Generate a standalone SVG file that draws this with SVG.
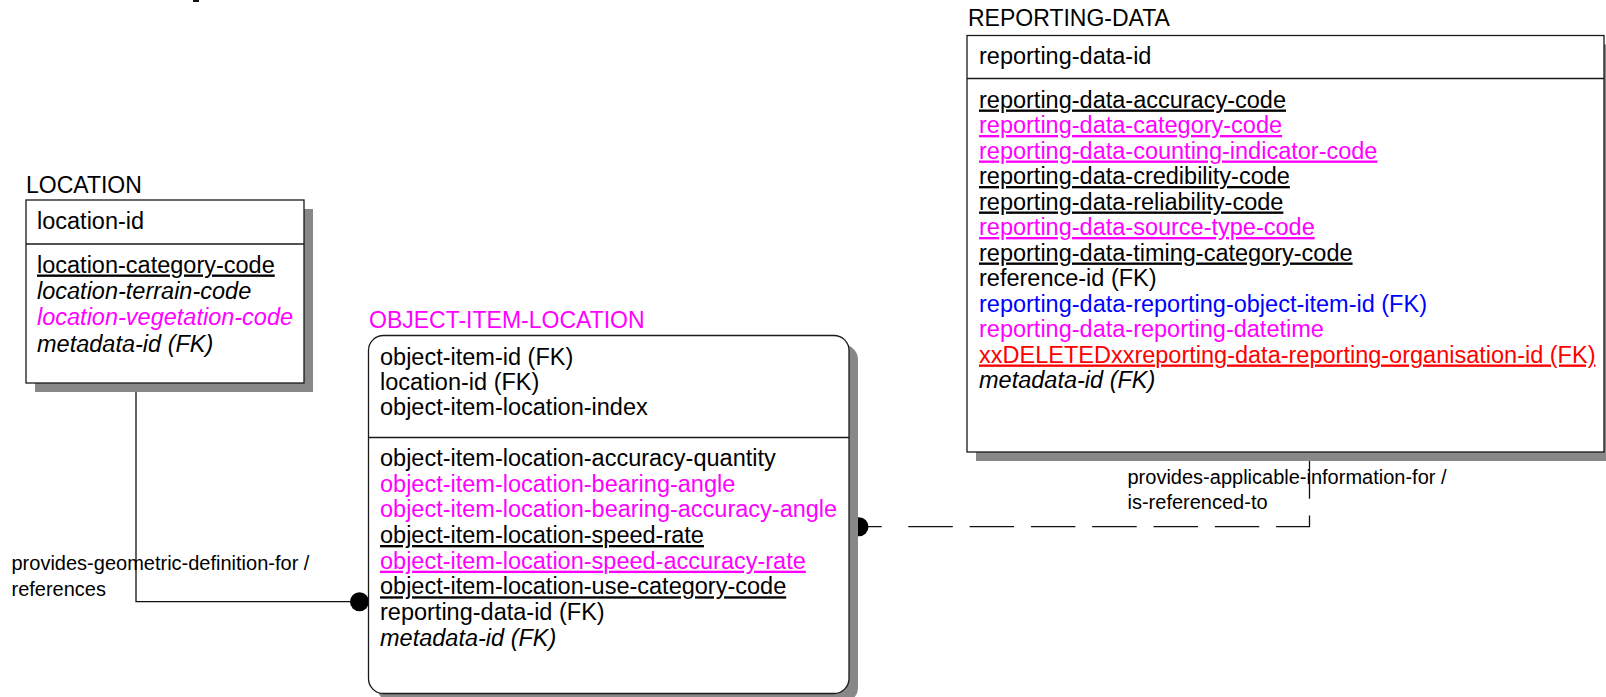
<svg xmlns="http://www.w3.org/2000/svg" width="1606" height="697" viewBox="0 0 1606 697">
<style>
text{font-family:"Liberation Sans",Arial,Helvetica,sans-serif;fill:#000}
.t{font-size:23px}
.a{font-size:23.5px}
.l{font-size:20px}
.u{text-decoration:underline}
.i{font-style:italic}
.m{fill:#ff00ff}
.b{fill:#0000ff}
.r{fill:#ff0000}
.box{fill:#fff;stroke:#1a1a1a;stroke-width:1.3}
.sh{fill:#888}
.div{stroke:#1a1a1a;stroke-width:1.3}
.con{fill:none;stroke:#111;stroke-width:1.3}
</style>
<rect x="0" y="0" width="1606" height="697" fill="#fff"/>
<rect x="193" y="0" width="6" height="2" fill="#111"/>
<g id="connectors">
<path class="con" d="M136,383 V601.7 H359.5"/>
<circle cx="359.5" cy="601.7" r="9.5" fill="#000"/>
<path class="con" d="M859,526.7 H1309.5 V452" stroke-dasharray="22.7 26.6 44.5 16.8 44.5 16.8 44.5 16.8 44.5 16.8 44.5 16.8 44.5 16.8 44.5 16.8 44.5 16.8"/>
<circle cx="859" cy="526.7" r="9.5" fill="#000"/>
<text class="l" x="11.5" y="570">provides-geometric-definition-for /</text>
<text class="l" x="11.5" y="595.5">references</text>
<text class="l" x="1127.5" y="484">provides-applicable-information-for /</text>
<text class="l" x="1127.5" y="509">is-referenced-to</text>
</g>
<g id="location">
<text class="t" x="26" y="192.5">LOCATION</text>
<rect class="sh" x="35" y="209" width="278" height="183"/>
<rect class="box" x="26" y="200" width="278" height="183"/>
<line class="div" x1="26" y1="244" x2="304" y2="244"/>
<text class="a" x="37" y="228.5">location-id</text>
<text class="a u" x="37" y="272.5">location-category-code</text>
<text class="a i" x="37" y="298.5">location-terrain-code</text>
<text class="a i m" x="37" y="325">location-vegetation-code</text>
<text class="a i" x="37" y="351.5">metadata-id (FK)</text>
</g>
<g id="object-item-location">
<text class="t m" x="369" y="327.5">OBJECT-ITEM-LOCATION</text>
<rect class="sh" x="377.5" y="344.5" width="480.5" height="358" rx="15"/>
<rect class="box" x="368.5" y="335.5" width="480.5" height="358" rx="15"/>
<line class="div" x1="368.5" y1="437.5" x2="849" y2="437.5"/>
<text class="a" x="380" y="365">object-item-id (FK)</text>
<text class="a" x="380" y="390">location-id (FK)</text>
<text class="a" x="380" y="415">object-item-location-index</text>
<text class="a" x="380" y="466">object-item-location-accuracy-quantity</text>
<text class="a m" x="380" y="491.7">object-item-location-bearing-angle</text>
<text class="a m" x="380" y="517.3">object-item-location-bearing-accuracy-angle</text>
<text class="a u" x="380" y="543">object-item-location-speed-rate</text>
<text class="a u m" x="380" y="568.7">object-item-location-speed-accuracy-rate</text>
<text class="a u" x="380" y="594.3">object-item-location-use-category-code</text>
<text class="a" x="380" y="620">reporting-data-id (FK)</text>
<text class="a i" x="380" y="645.7">metadata-id (FK)</text>
</g>
<g id="reporting-data">
<text class="t" x="968" y="26">REPORTING-DATA</text>
<rect class="sh" x="976" y="44.5" width="637" height="416.5"/>
<rect class="box" x="967" y="35.5" width="637" height="416.5"/>
<line class="div" x1="967" y1="78.5" x2="1604" y2="78.5"/>
<text class="a" x="979" y="64">reporting-data-id</text>
<text class="a u" x="979" y="107.5">reporting-data-accuracy-code</text>
<text class="a u m" x="979" y="133">reporting-data-category-code</text>
<text class="a u m" x="979" y="158.5">reporting-data-counting-indicator-code</text>
<text class="a u" x="979" y="184">reporting-data-credibility-code</text>
<text class="a u" x="979" y="209.5">reporting-data-reliability-code</text>
<text class="a u m" x="979" y="235">reporting-data-source-type-code</text>
<text class="a u" x="979" y="260.5">reporting-data-timing-category-code</text>
<text class="a" x="979" y="286">reference-id (FK)</text>
<text class="a b" x="979" y="311.5">reporting-data-reporting-object-item-id (FK)</text>
<text class="a m" x="979" y="337">reporting-data-reporting-datetime</text>
<text class="a u r" x="979" y="362.5">xxDELETEDxxreporting-data-reporting-organisation-id (FK)</text>
<text class="a i" x="979" y="388">metadata-id (FK)</text>
</g>
</svg>
